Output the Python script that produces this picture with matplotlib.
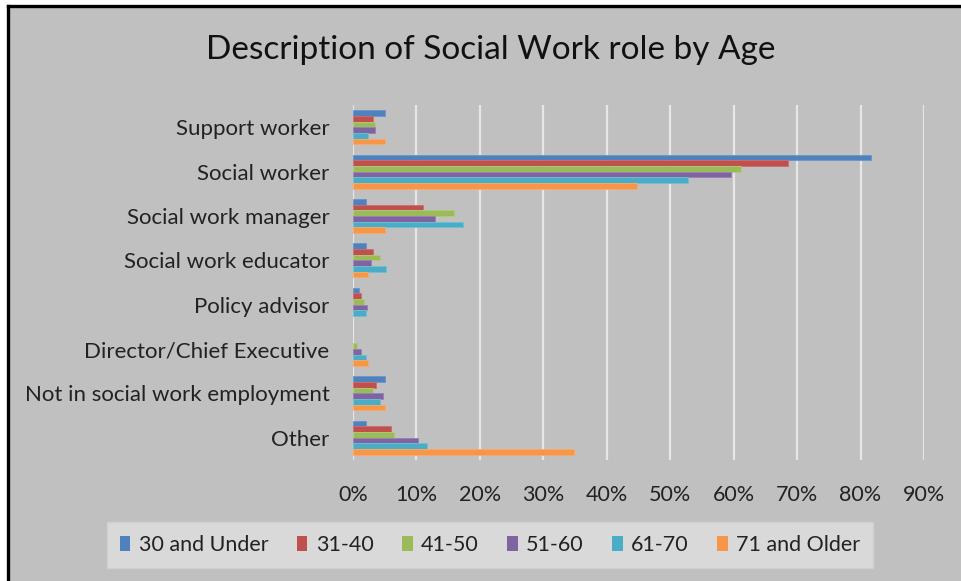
import matplotlib
matplotlib.use("Agg")
import matplotlib.pyplot as plt
from matplotlib.patches import Rectangle
from matplotlib.lines import Line2D
import numpy as np

plt.rcParams['font.family'] = ['Lato', 'DejaVu Sans']

# roles, top to bottom
roles = ['Support worker', 'Social worker', 'Social work manager', 'Social work educator',
         'Policy advisor', 'Director/Chief Executive', 'Not in social work employment', 'Other']

ages = ['30 and Under', '31-40', '41-50', '51-60', '61-70', '71 and Older']

# percentage per role, one list per age group
age_30_under = [5.0, 81.6, 2.0, 2.0, 0.9, 0.0, 5.0, 2.0]
age_31_40    = [3.1, 68.6, 11.0, 3.1, 1.2, 0.0, 3.6, 6.0]
age_41_50    = [3.4, 61.1, 15.9, 4.3, 1.8, 0.7, 3.2, 6.4]
age_51_60    = [3.4, 59.6, 13.0, 2.8, 2.2, 1.2, 4.8, 10.2]
age_61_70    = [2.4, 52.8, 17.3, 5.2, 2.1, 2.1, 4.3, 11.6]
age_71_older = [5.0, 44.7, 5.0, 2.4, 0.0, 2.4, 5.0, 34.9]

series = [age_30_under, age_31_40, age_41_50, age_51_60, age_61_70, age_71_older]
colores = ['#4F81BD', '#C0504D', '#9BBB59', '#8064A2', '#4BACC6', '#F79646']
bordes = ['#6a95cc', '#cc6d6a', '#b0cc7a', '#9680b5', '#6cc0d6', '#f9ab6a']

fig = plt.figure(figsize=(9.61, 5.81), dpi=100)
fig.patch.set_facecolor('white')

# gray chart area with black border on top and left
fig.add_artist(Rectangle((8/961, 0), 1, 1 - 6/581, transform=fig.transFigure,
                         facecolor='#c0c0c0', edgecolor='none', zorder=0))
fig.add_artist(Line2D([8/961, 1], [1 - 6/581, 1 - 6/581], transform=fig.transFigure,
                      color='black', lw=2.4, zorder=1))
fig.add_artist(Line2D([8/961, 8/961], [0, 1 - 6/581], transform=fig.transFigure,
                      color='black', lw=2.4, zorder=1))

ax = fig.add_axes([353/961, 1 - 460/581, 571/961, 355/581])
ax.set_facecolor('none')

y = np.arange(len(roles))
h = 0.128
for k in range(len(series)):
    vals = np.array(series[k]) / 100.0
    ecs = [bordes[k] if v > 0 else 'none' for v in vals]
    ax.barh(y - 2.5*h + k*h, vals, height=h, color=colores[k],
            edgecolor=ecs, linewidth=0.6, label=ages[k], zorder=3)

ax.set_xlim(0, 0.9)
ax.set_ylim(len(roles) - 0.5, -0.5)
ax.set_xticks(np.arange(0, 0.91, 0.1))
ax.set_xticklabels(['%d%%' % v for v in range(0, 91, 10)])
ax.set_yticks(y)
ax.set_yticklabels(roles)
ax.grid(axis='x', color='#e6e6e6', lw=1.6, zorder=1)
ax.tick_params(axis='x', length=0, pad=18, labelsize=15.5, colors='#222222')
ax.tick_params(axis='y', length=0, pad=17, labelsize=16, colors='#222222')
for s in ax.spines.values():
    s.set_visible(False)

fig.text(491/961, 1 - 50/581, 'Description of Social Work role by Age',
         ha='center', va='center', fontsize=24, color='#111111')

handles = [Rectangle((0, 0), 1, 1, facecolor=c, edgecolor='none') for c in colores]
leg = fig.legend(handles, ages, loc='center', bbox_to_anchor=(490/961, 1 - 545/581),
                 ncol=6, fontsize=15.5, frameon=True, fancybox=False,
                 handlelength=0.5, handleheight=0.7, handletextpad=0.4,
                 columnspacing=1.3, borderpad=0.6)
leg.get_frame().set_facecolor('#d9d9d9')
leg.get_frame().set_edgecolor('#d0d0d0')
leg.get_frame().set_alpha(1)
for t in leg.get_texts():
    t.set_color('#222222')

fig.savefig('out.png', dpi=100)
